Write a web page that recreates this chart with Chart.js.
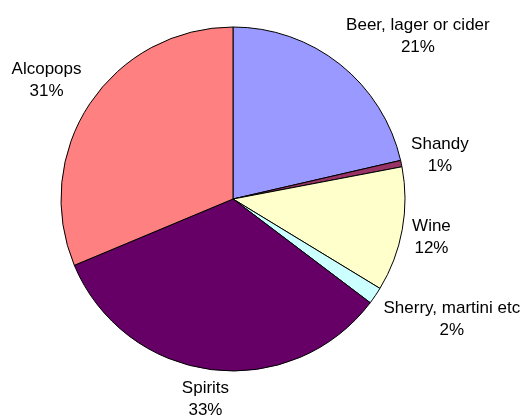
<!DOCTYPE html>
<html>
<head>
<meta charset="utf-8">
<script src="https://cdn.jsdelivr.net/npm/chart.js@4/dist/chart.umd.min.js"></script>
<style>
  html, body { margin: 0; padding: 0; background: #fff; }
  #wrap { width: 527px; height: 416px; position: relative; }
</style>
</head>
<body>
<div id="wrap"><canvas id="pie"></canvas></div>
<script>
// drink types, clockwise from 12 o'clock
var drinks = ['Beer, lager or cider', 'Shandy', 'Wine', 'Sherry, martini etc', 'Spirits', 'Alcopops'];
// share of drinkers (%)
var shares = [21.4, 0.6, 11.7, 1.6, 33.4, 31.3];
var sliceColors = ['#9999ff', '#993366', '#ffffcc', '#ccffff', '#660066', '#ff8080'];

// puts "name / nn%" outside each slice, the way Excel does
var outsideLabels = {
    id: 'outsideLabels',
    afterDatasetsDraw: function(chart) {
        var ctx = chart.ctx;
        var meta = chart.getDatasetMeta(0);
        ctx.save();
        ctx.font = '17px "Liberation Sans", Arial, sans-serif';
        ctx.fillStyle = '#000';
        ctx.textAlign = 'center';
        ctx.textBaseline = 'middle';
        meta.data.forEach(function(arc, i) {
            var mid = (arc.startAngle + arc.endAngle) / 2;
            var dx = Math.cos(mid), dy = Math.sin(mid);
            var r = arc.outerRadius + 10;
            var ax = arc.x + dx * r, ay = arc.y + dy * r;
            var line1 = drinks[i];
            var line2 = Math.round(shares[i]) + '%';
            var w = Math.max(ctx.measureText(line1).width, ctx.measureText(line2).width);
            var f = function(t) { return Math.sign(t) * Math.min(1, Math.abs(t) * 1.6); };
            var cx = ax + f(dx) * w / 2;
            var cy = ay + f(dy) * 20;
            ctx.fillText(line1, cx, cy - 11);
            ctx.fillText(line2, cx, cy + 11);
        });
        ctx.restore();
    }
};

new Chart('pie', {
    type: 'pie',
    data: {
        labels: drinks,
        datasets: [{
            data: shares,
            backgroundColor: sliceColors,
            borderColor: '#000',
            borderWidth: 1,
            radius: 172
        }]
    },
    options: {
        responsive: true,
        maintainAspectRatio: false,
        animation: false,
        layout: { padding: { left: 20, right: 81, top: 20, bottom: 38 } },
        plugins: {
            legend: { display: false },
            tooltip: { enabled: false }
        }
    },
    plugins: [outsideLabels]
});
</script>
</body>
</html>
